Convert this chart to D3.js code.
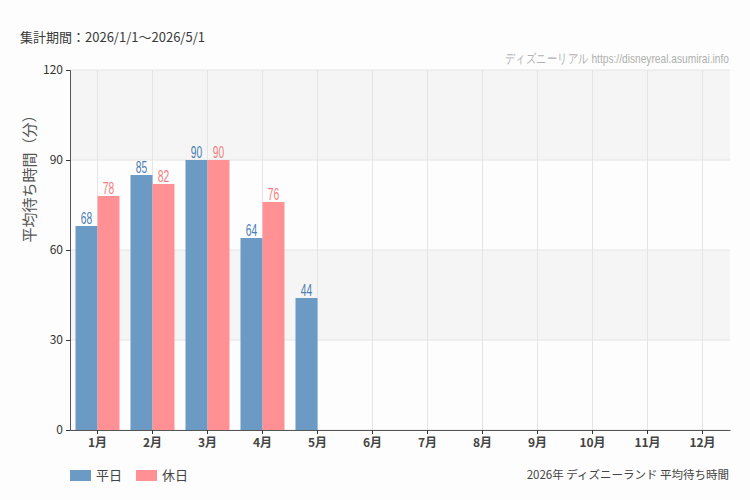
<!DOCTYPE html>
<html><head><meta charset="utf-8">
<script src="https://cdn.jsdelivr.net/npm/d3@7"></script>
<style>
html,body{margin:0;padding:0;background:#fcfdfc;}
svg{display:block;}
</style></head>
<body>
<svg id="c" width="750" height="500"></svg>
<script>
const months = ["1月","2月","3月","4月","5月","6月","7月","8月","9月","10月","11月","12月"];
const weekday = [68, 85, 90, 64, 44, null, null, null, null, null, null, null];
const holiday = [78, 82, 90, 76, null, null, null, null, null, null, null, null];
const seriesNames = ["平日", "休日"];
const yTicks = [0, 30, 60, 90, 120];

const colors = ["#6b9ac4", "#ff9195"];
const labelColors = ["#4a7db3", "#f27c80"];
const jp = "'Noto Sans CJK JP','Noto Sans',sans-serif";
const narrow = "'Liberation Sans','DejaVu Sans',sans-serif";

const svg = d3.select("#c");
const m = {l:70, r:730, t:70, b:430};

const x = d3.scaleBand().domain(months).range([m.l, m.r]).paddingInner(0).paddingOuter(0);
const y = d3.scaleLinear().domain([0,120]).range([m.b, m.t]);
const inner = d3.scaleBand().domain([0,1]).range([0, x.bandwidth()]).paddingOuter(0.25).paddingInner(0);

// background bands
const bands = [[90,120,"#f5f5f5"],[60,90,"#fdfdfd"],[30,60,"#f5f5f5"],[0,30,"#fdfdfd"]];
svg.selectAll("rect.band").data(bands).enter().append("rect")
  .attr("x", m.l).attr("width", m.r - m.l)
  .attr("y", d => y(d[1])).attr("height", d => y(d[0]) - y(d[1]))
  .attr("fill", d => d[2]);

// grid lines
svg.selectAll("line.hg").data(yTicks).enter().append("line")
  .attr("x1", m.l).attr("x2", m.r).attr("y1", d => y(d)).attr("y2", d => y(d))
  .attr("stroke", "#e4e4e4").attr("stroke-width", 1);
svg.selectAll("line.vg").data(months).enter().append("line")
  .attr("x1", d => x(d) + x.bandwidth()/2).attr("x2", d => x(d) + x.bandwidth()/2)
  .attr("y1", m.t).attr("y2", m.b)
  .attr("stroke", "#e4e4e4").attr("stroke-width", 1);

// bars
const series = [weekday, holiday];
series.forEach((vals, si) => {
  const data = months.map((mo, i) => ({mo, v: vals[i]})).filter(d => d.v != null);
  svg.selectAll("rect.s" + si).data(data).enter().append("rect")
    .attr("x", d => x(d.mo) + inner(si))
    .attr("width", inner.bandwidth())
    .attr("y", d => y(d.v))
    .attr("height", d => y(0) - y(d.v))
    .attr("fill", colors[si]);
  svg.selectAll("text.l" + si).data(data).enter().append("text")
    .attr("transform", d => `translate(${x(d.mo) + inner(si) + inner.bandwidth()/2},${y(d.v) - 2}) scale(0.62,1)`)
    .attr("text-anchor", "middle")
    .attr("font-family", narrow).attr("font-size", 16.5)
    .attr("fill", labelColors[si])
    .text(d => d.v);
});

// axes
const yAxis = d3.axisLeft(y).tickValues(yTicks).tickSize(4).tickPadding(3);
const gy = svg.append("g").attr("transform", `translate(${m.l},0)`).call(yAxis);
gy.select(".domain").attr("stroke", "#555");
gy.selectAll(".tick line").attr("stroke", "#333");
gy.selectAll("text").attr("font-family", jp).attr("font-size", 12).attr("fill", "#333");

const xAxis = d3.axisBottom(x).tickSize(4).tickPadding(4).tickSizeOuter(0);
const gx = svg.append("g").attr("transform", `translate(0,${m.b})`).call(xAxis);
gx.select(".domain").attr("stroke", "#555");
gx.selectAll(".tick line").attr("stroke", "#333");
gx.selectAll("text").attr("font-family", jp).attr("font-size", 12).attr("font-weight", "bold").attr("fill", "#444");

// y title
svg.append("text")
  .attr("transform", "translate(35,175) rotate(-90)")
  .attr("text-anchor", "middle")
  .attr("font-family", jp).attr("font-size", 15).attr("fill", "#555")
  .text("平均待ち時間（分）");

// top text
svg.append("text").attr("x", 20).attr("y", 42)
  .attr("font-family", jp).attr("font-size", 13).attr("fill", "#3a3a3a")
  .text("集計期間：2026/1/1～2026/5/1");

const wm = svg.append("text").attr("text-anchor", "end")
  .attr("font-family", narrow).attr("font-size", 13).attr("fill", "#b0b0b0")
  .text("ディズニーリアル https://disneyreal.asumirai.info");
const wmw = wm.node().getComputedTextLength();
wm.attr("transform", `translate(729,63) scale(${222 / wmw},1)`);

// legend
const lg = svg.append("g");
seriesNames.forEach((n, i) => {
  const lx = 70 + i * 66;
  lg.append("rect").attr("x", lx).attr("y", 470).attr("width", 21).attr("height", 11).attr("fill", colors[i]);
  lg.append("text").attr("x", lx + 26).attr("y", 480)
    .attr("font-family", jp).attr("font-size", 13).attr("fill", "#444").text(n);
});

svg.append("text").attr("x", 729).attr("y", 479).attr("text-anchor", "end")
  .attr("font-family", jp).attr("font-size", 11.5).attr("fill", "#444")
  .text("2026年 ディズニーランド 平均待ち時間");
</script>
</body></html>
